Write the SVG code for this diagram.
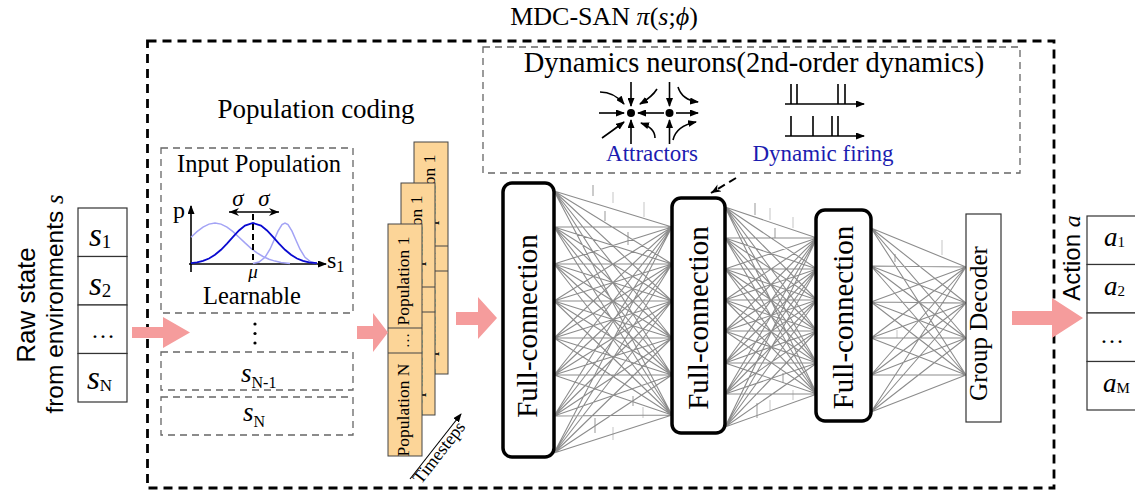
<svg xmlns="http://www.w3.org/2000/svg" width="1135" height="495" viewBox="0 0 1135 495">
<style>
.serif{font-family:"Liberation Serif","Times New Roman",serif;fill:#000}
.sans{font-family:"Liberation Sans",Arial,sans-serif;fill:#000}
.it{font-style:italic}
.dash{fill:none;stroke:#666;stroke-width:1.3;stroke-dasharray:7 5}
.outer{fill:none;stroke:#000;stroke-width:2.8;stroke-dasharray:9 6}
.box{fill:#fff;stroke:#333;stroke-width:1.2}
.fc{fill:#fff;stroke:#000;stroke-width:3.5}
.card{fill:#FCD598;stroke:#444;stroke-width:1}
.pink{fill:#F59C9C}
.net{fill:none;stroke:#8c8c8c;stroke-width:1.1}
.tick1{stroke:#d6d6d6;stroke-width:1.4}
.tick2{stroke:#b5b5b5;stroke-width:1.4}
.ic{fill:none;stroke:#000;stroke-width:1.6}
.blue{fill:#1c1cb0}
</style>
<defs>
<marker id="ah" markerUnits="userSpaceOnUse" markerWidth="9" markerHeight="7" refX="8" refY="3.5" orient="auto"><path d="M0,0 L9,3.5 L0,7 z" fill="#000"/></marker>
<marker id="st" markerUnits="userSpaceOnUse" markerWidth="11" markerHeight="8" refX="10" refY="4" orient="auto"><path d="M0,0 L10,4 L0,8 L3,4 z" fill="#000"/></marker>
<g id="cardShape">
<rect class="card" x="0" y="0" width="34" height="232"/>
<line x1="0" y1="104" x2="34" y2="104" stroke="#444" stroke-width="1"/>
<line x1="0" y1="129" x2="34" y2="129" stroke="#444" stroke-width="1"/>
<text class="serif" font-size="17.5" text-anchor="middle" transform="translate(21,57) rotate(-90)">Population 1</text>
<text class="serif" font-size="15" text-anchor="middle" transform="translate(21,116.5) rotate(-90)">…</text>
<text class="serif" font-size="17.5" text-anchor="middle" transform="translate(21,186) rotate(-90)">Population N</text>
</g>
</defs>

<!-- title & outer -->
<g id="title">
<text class="serif" font-size="26" x="604" y="25" text-anchor="middle">MDC-SAN <tspan class="it">π</tspan>(<tspan class="it">s</tspan>;<tspan class="it">ϕ</tspan>)</text>
</g>
<rect id="outer-box" class="outer" x="147.5" y="41" width="906.5" height="447"/>

<!-- raw state -->
<g id="raw-state-label">
<text class="sans" font-size="26" text-anchor="middle" transform="translate(35,305) rotate(-90)">Raw state</text>
<text class="sans" font-size="24.5" text-anchor="middle" transform="translate(63,304) rotate(-90)">from environments <tspan class="serif it">s</tspan></text>
</g>
<g id="raw-state">
<rect class="box" x="78" y="208" width="49" height="48.5"/>
<rect class="box" x="78" y="256.5" width="49" height="48.5"/>
<rect class="box" x="78" y="305" width="49" height="48.5"/>
<rect class="box" x="78" y="353.5" width="49" height="48.5"/>
<text class="serif" x="89" y="246"><tspan class="it" font-size="33">s</tspan><tspan font-size="19" dy="2">1</tspan></text>
<text class="serif" x="89" y="294.5"><tspan class="it" font-size="33">s</tspan><tspan font-size="19" dy="2">2</tspan></text>
<text class="serif" font-size="24" x="103" y="338" text-anchor="middle">…</text>
<text class="serif" x="87" y="389"><tspan class="it" font-size="33">s</tspan><tspan font-size="17" dy="2">N</tspan></text>
</g>

<!-- population coding -->
<g id="population-coding-label">
<text class="serif" font-size="27" x="316" y="118" text-anchor="middle">Population coding</text>
</g>
<g id="input-population">
<rect class="dash" x="161" y="148" width="192" height="165"/>
<text class="serif" font-size="24.5" x="259" y="172" text-anchor="middle">Input Population</text>
<line x1="191" y1="272" x2="191" y2="206" stroke="#000" stroke-width="1.6" marker-end="url(#ah)"/>
<line x1="189" y1="264" x2="326" y2="264" stroke="#000" stroke-width="1.6" marker-end="url(#ah)"/>
<path d="M191,237.2 L197,231.7 L203,227.1 L209,224.1 L215,223 L221,224.1 L227,227.1 L233,231.7 L239,237.2 L245,242.9 L251,248.3 L257,252.9 L263,256.5 L269,259.3 L275,261.1 L281,262.4 L290,263.4" fill="none" stroke="#A3A3F5" stroke-width="1.5"/>
<path d="M253,263.6 L259,262.1 L265,257.3 L270,249.2 L274,240.3 L278,231.2 L282,224.6 L285,223 L288,224.6 L292,231.2 L296,240.3 L300,249.2 L305,257.3 L311,262.1 L317,263.6" fill="none" stroke="#A3A3F5" stroke-width="1.5"/>
<path d="M191,263.2 L197,262.4 L203,260.9 L209,258.5 L215,254.8 L221,249.8 L227,243.6 L233,236.9 L239,230.5 L245,225.6 L253,223 L261,225.6 L267,230.5 L273,236.9 L279,243.6 L285,249.8 L291,254.8 L297,258.5 L303,260.9 L309,262.4 L317,263.2" fill="none" stroke="#0a0ad0" stroke-width="1.8"/>
<line x1="253" y1="214" x2="253" y2="264" stroke="#000" stroke-width="2" stroke-dasharray="6 4"/>
<line x1="251" y1="212" x2="229" y2="212" stroke="#000" stroke-width="1.5" marker-end="url(#st)"/>
<line x1="256" y1="212" x2="279" y2="212" stroke="#000" stroke-width="1.5" marker-end="url(#st)"/>
<line x1="251" y1="212" x2="256" y2="212" stroke="#000" stroke-width="1.5"/>
<text class="serif it" font-size="23" x="238" y="206" text-anchor="middle">σ</text>
<text class="serif it" font-size="23" x="264" y="206" text-anchor="middle">σ</text>
<text class="serif" font-size="24" x="173" y="218">p</text>
<text class="serif" x="327" y="268"><tspan font-size="24">s</tspan><tspan font-size="16" dy="4">1</tspan></text>
<text class="serif it" font-size="19" x="253" y="278" text-anchor="middle">μ</text>
<text class="serif" font-size="24.5" x="252" y="304" text-anchor="middle">Learnable</text>
</g>
<g id="population-dots">
<circle cx="255" cy="324" r="1.6" fill="#000"/>
<circle cx="255" cy="333.5" r="1.6" fill="#000"/>
<circle cx="255" cy="343" r="1.6" fill="#000"/>
</g>
<g id="s-n-1">
<rect class="dash" x="161" y="352" width="192" height="38"/>
<text class="serif" x="241" y="382"><tspan class="it" font-size="27">s</tspan><tspan font-size="16" dy="6">N-1</tspan></text>
</g>
<g id="s-n">
<rect class="dash" x="161" y="397" width="192" height="38"/>
<text class="serif" x="243" y="421"><tspan class="it" font-size="27">s</tspan><tspan font-size="16" dy="6">N</tspan></text>
</g>

<!-- cards -->
<g id="card-back"><use href="#cardShape" transform="translate(414,142)"/></g>
<g id="card-mid"><use href="#cardShape" transform="translate(401,183)"/></g>
<g id="card-front"><use href="#cardShape" transform="translate(388,224)"/></g>
<g id="timesteps">
<line x1="410" y1="479" x2="461" y2="414" stroke="#000" stroke-width="1.1" marker-end="url(#ah)"/>
<text class="serif" font-size="18" transform="translate(421,485) rotate(-52)">Timesteps</text>
</g>

<!-- dynamics neurons -->
<g id="dynamics-neurons">
<rect class="dash" x="483" y="47" width="537" height="126"/>
<text class="serif" font-size="28.5" x="754" y="72" text-anchor="middle">Dynamics neurons(2nd-order dynamics)</text>
<circle cx="631" cy="113" r="4" fill="#000"/>
<circle cx="669.5" cy="113" r="4" fill="#000"/>
<g class="ic">
<line x1="631" y1="82" x2="631" y2="106" marker-end="url(#ah)"/>
<line x1="599" y1="113" x2="624" y2="113" marker-end="url(#ah)"/>
<line x1="631" y1="144" x2="631" y2="120" marker-end="url(#ah)"/>
<path d="M600,92 Q614,92 624,104" marker-end="url(#ah)"/>
<path d="M602,138 Q612,131 624,122" marker-end="url(#ah)"/>
<path d="M657,89 Q652,97 640,104" marker-end="url(#ah)"/>
<path d="M655,138 Q655,128 641,123" marker-end="url(#ah)"/>
<line x1="664" y1="113" x2="638" y2="113" marker-end="url(#ah)"/>
<line x1="669.5" y1="82" x2="669.5" y2="106" marker-end="url(#ah)"/>
<line x1="669.5" y1="144" x2="669.5" y2="120" marker-end="url(#ah)"/>
<line x1="676" y1="113" x2="698" y2="113" marker-end="url(#ah)"/>
<path d="M678,87 Q682,100 698,102" marker-end="url(#ah)"/>
<path d="M673,140 Q676,126 696,122" marker-end="url(#ah)"/>
</g>
<g class="ic">
<line x1="785" y1="104" x2="864" y2="104" marker-end="url(#ah)"/>
<line x1="785" y1="136" x2="864" y2="136" marker-end="url(#ah)"/>
<path d="M791,84V104M797,84V104M838,84V104M845,84V104M791,116V136M813,116V136M832,116V136M838,116V136"/>
</g>
<text class="serif blue" font-size="23" x="652" y="161" text-anchor="middle">Attractors</text>
<text class="serif blue" font-size="23" x="823" y="161" text-anchor="middle">Dynamic firing</text>
</g>

<!-- connectors -->
<g id="connectors">
<path class="pink" d="M132,327 H163 V317 L190,332.5 L163,348 V338 H132 z"/>
<path class="pink" d="M357,326 H373 V313 L388,332.5 L373,352 V339 H357 z"/>
<path class="pink" d="M456,312 H478 V297 L497,318 L478,339 V325 H456 z"/>
<path class="pink" d="M1012,311 H1052 V298 L1083,318 L1052,338 V325 H1012 z"/>
<line x1="736" y1="178" x2="711" y2="193" stroke="#000" stroke-width="2" stroke-dasharray="8 5" marker-end="url(#st)"/>
<g id="ticks">
<line class="tick2" x1="593" y1="185" x2="593" y2="196"/>
<line class="tick1" x1="613" y1="192" x2="613" y2="203"/>
<line class="tick2" x1="605" y1="211" x2="605" y2="221"/>
<line class="tick1" x1="644" y1="202" x2="644" y2="217"/>
<line class="tick2" x1="628" y1="232" x2="628" y2="245"/>
<line class="tick2" x1="633" y1="396" x2="633" y2="406"/>
<line class="tick1" x1="643" y1="407" x2="643" y2="418"/>
<line class="tick2" x1="595" y1="418" x2="595" y2="433"/>
<line class="tick1" x1="613" y1="427" x2="613" y2="440"/>
<line class="tick2" x1="755" y1="203" x2="755" y2="215"/>
<line class="tick1" x1="770" y1="208" x2="770" y2="220"/>
<line class="tick2" x1="775" y1="228" x2="775" y2="238"/>
<line class="tick1" x1="793" y1="217" x2="793" y2="228"/>
<line class="tick2" x1="757" y1="403" x2="757" y2="418"/>
<line class="tick1" x1="770" y1="400" x2="770" y2="410"/>
<line class="tick2" x1="783" y1="373" x2="783" y2="383"/>
<line class="tick1" x1="793" y1="390" x2="793" y2="400"/>
<line class="tick1" x1="942" y1="240" x2="942" y2="255"/>
<line class="tick2" x1="895" y1="254" x2="895" y2="262"/>
<line class="tick1" x1="897" y1="330" x2="897" y2="338"/>
</g>
<path class="net" d="M554 191L672 227M554 191L672 264M554 191L672 301M554 191L672 338M554 191L672 375M554 191L672 415M554 227L672 227M554 227L672 264M554 227L672 301M554 227L672 338M554 227L672 375M554 227L672 415M554 264L672 227M554 264L672 264M554 264L672 301M554 264L672 338M554 264L672 375M554 264L672 415M554 301L672 227M554 301L672 264M554 301L672 301M554 301L672 338M554 301L672 375M554 301L672 415M554 338L672 227M554 338L672 264M554 338L672 301M554 338L672 338M554 338L672 375M554 338L672 415M554 375L672 227M554 375L672 264M554 375L672 301M554 375L672 338M554 375L672 375M554 375L672 415M554 416L672 227M554 416L672 264M554 416L672 301M554 416L672 338M554 416L672 375M554 416L672 415M554 453L672 227M554 453L672 264M554 453L672 301M554 453L672 338M554 453L672 375M554 453L672 415"/>
<path class="net" d="M725 207L817 238M725 207L817 269M725 207L817 300M725 207L817 331M725 207L817 363M725 207L817 394M725 238L817 238M725 238L817 269M725 238L817 300M725 238L817 331M725 238L817 363M725 238L817 394M725 269L817 238M725 269L817 269M725 269L817 300M725 269L817 331M725 269L817 363M725 269L817 394M725 300L817 238M725 300L817 269M725 300L817 300M725 300L817 331M725 300L817 363M725 300L817 394M725 331L817 238M725 331L817 269M725 331L817 300M725 331L817 331M725 331L817 363M725 331L817 394M725 363L817 238M725 363L817 269M725 363L817 300M725 363L817 331M725 363L817 363M725 363L817 394M725 394L817 238M725 394L817 269M725 394L817 300M725 394L817 331M725 394L817 363M725 394L817 394M725 427L817 238M725 427L817 269M725 427L817 300M725 427L817 331M725 427L817 363M725 427L817 394"/>
<path class="net" d="M871 228L966 267M871 228L966 303M871 228L966 338M871 228L966 375M871 266L966 267M871 266L966 303M871 266L966 338M871 266L966 375M871 302L966 267M871 302L966 303M871 302L966 338M871 302L966 375M871 338L966 267M871 338L966 303M871 338L966 338M871 338L966 375M871 375L966 267M871 375L966 303M871 375L966 338M871 375L966 375M871 412L966 267M871 412L966 303M871 412L966 338M871 412L966 375"/>
</g>

<!-- layers -->
<g id="fc1">
<rect class="fc" x="503" y="183" width="51" height="274" rx="9"/>
<text class="serif" font-size="29" text-anchor="middle" transform="translate(537,326) rotate(-90)">Full-connection</text>
</g>
<g id="fc2">
<rect class="fc" x="672" y="198" width="53" height="235" rx="9"/>
<text class="serif" font-size="29" text-anchor="middle" transform="translate(708,318) rotate(-90)">Full-connection</text>
</g>
<g id="fc3">
<rect class="fc" x="816" y="210" width="55" height="211" rx="9"/>
<text class="serif" font-size="29" text-anchor="middle" transform="translate(853,317.5) rotate(-90)">Full-connection</text>
</g>
<g id="group-decoder">
<rect class="box" x="966" y="214" width="35" height="208" stroke="#000"/>
<text class="serif" font-size="25" text-anchor="middle" transform="translate(987,323.5) rotate(-90)">Group Decoder</text>
</g>

<!-- action -->
<g id="action-label">
<text class="sans" font-size="24" text-anchor="middle" transform="translate(1080,258) rotate(-90)">Action <tspan class="serif it">a</tspan></text>
</g>
<g id="action">
<rect class="box" x="1087" y="216" width="60" height="48.5"/>
<rect class="box" x="1087" y="264.5" width="60" height="48.5"/>
<rect class="box" x="1087" y="313" width="60" height="48.5"/>
<rect class="box" x="1087" y="361.5" width="60" height="48.5"/>
<text class="serif" x="1104" y="246"><tspan class="it" font-size="27">a</tspan><tspan font-size="15" dy="1">1</tspan></text>
<text class="serif" x="1104" y="294.5"><tspan class="it" font-size="27">a</tspan><tspan font-size="15" dy="1">2</tspan></text>
<text class="serif" font-size="24" x="1112" y="343" text-anchor="middle">…</text>
<text class="serif" x="1103" y="391.5"><tspan class="it" font-size="27">a</tspan><tspan font-size="15" dy="1">M</tspan></text>
</g>
</svg>
